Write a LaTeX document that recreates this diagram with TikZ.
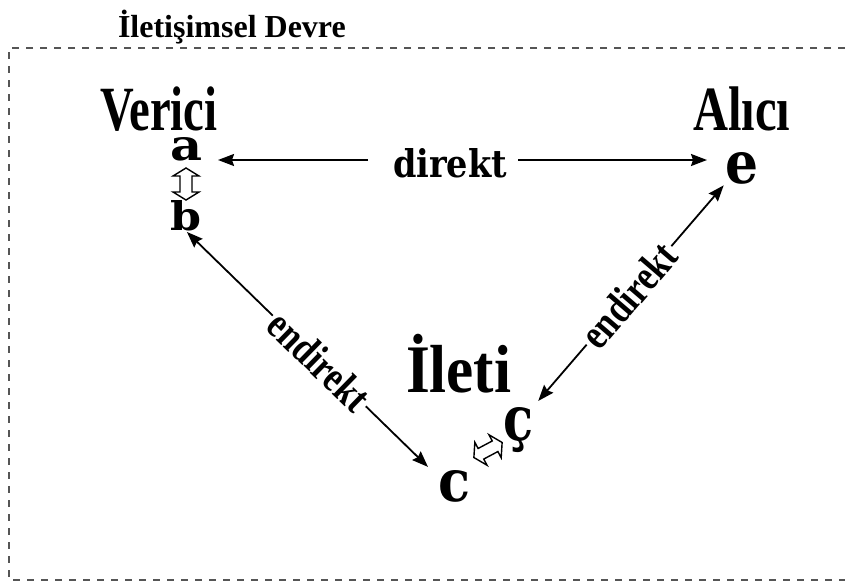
\documentclass[tikz,border=0pt]{standalone}
\usepackage{fontspec}
\setmainfont{Liberation Serif}
\newfontfamily\letterfont{DejaVu Serif}
\usetikzlibrary{arrows.meta}
\definecolor{framegray}{HTML}{555555}
\tikzset{
  lbl/.style={inner sep=0pt, outer sep=0pt, anchor=base west},
  arrline/.style={line width=1.8pt},
  arr/.style={arrline, -{Stealth[length=16pt,width=12pt,inset=2pt]}},
  biarr/.style={arrline, {Stealth[length=16pt,width=12pt,inset=2pt]}-{Stealth[length=16pt,width=12pt,inset=2pt]}},
  elbl/.style={fill=white, inner sep=3pt, font=\fontsize{43}{43}\selectfont\bfseries},
  frame/.style={draw=framegray, line width=1.2pt, dash pattern=on 7pt off 7pt},
  dbl/.pic={\draw[line width=1.4pt, fill=white]
     (-16,0) -- (-8,13) -- (-8,6) -- (8,6) -- (8,13) -- (16,0)
     -- (8,-13) -- (8,-6) -- (-8,-6) -- (-8,-13) -- cycle;}
}
\newcommand{\Lett}[3]{\resizebox{#1pt}{#2pt}{\letterfont\bfseries #3}}
\begin{document}
\begin{tikzpicture}[x=1pt,y=-1pt]
\useasboundingbox (0,0) rectangle (845,581);
\draw[frame] (845,48) -- (9,48) -- (9,580) -- (845,580);

\node[lbl] (title) at (118,37) {\fontsize{32}{32}\selectfont\bfseries İletişimsel Devre};
\node[lbl] (verici) at (100,130) {\fontsize{63}{63}\selectfont\bfseries\scalebox{0.74}[1]{Verici}};
\node[lbl] (alici) at (693,130) {\fontsize{63}{63}\selectfont\bfseries\scalebox{0.77}[1]{Alıcı}};
\node[lbl] (ileti) at (406,392) {\fontsize{68}{68}\selectfont\bfseries\scalebox{0.9}[1]{İleti}};

\node[lbl] (a) at (170,160) {\Lett{32}{23}{a}};
\node[lbl] (b) at (170,230) {\Lett{31}{30}{b}};
\node[lbl] (e) at (725,183) {\Lett{33}{31}{e}};
\node[lbl] (c) at (438,501) {\Lett{32}{31}{c}};
\node[lbl] (cc) at (503,440) {\Lett{30}{33}{ç}};
\node[lbl] (dir) at (393,177) {\Lett{114}{29}{direkt}};

\draw[arr, shorten <=25pt, shorten >=16pt] (dir.west |- a.base east) -- (a.base east);
\draw[arr, shorten <=11pt, shorten >=18pt] (dir.east |- a.base east) -- (e.west |- a.base east);

\draw[biarr, shorten <=2pt, shorten >=14pt] (b.south) --
  node[elbl, sloped, pos=0.53] {\scalebox{0.8}[1]{endirekt}} (c.150);
\draw[biarr, shorten <=8pt, shorten >=2pt] (cc.north east) --
  node[elbl, sloped, pos=0.5] {\scalebox{0.8}[1]{endirekt}} (e.south west);

\pic[rotate=90] (dab) at (186,184) {dbl};
\pic[rotate=28] (dcc) at (488,450) {dbl};
\end{tikzpicture}
\end{document}
